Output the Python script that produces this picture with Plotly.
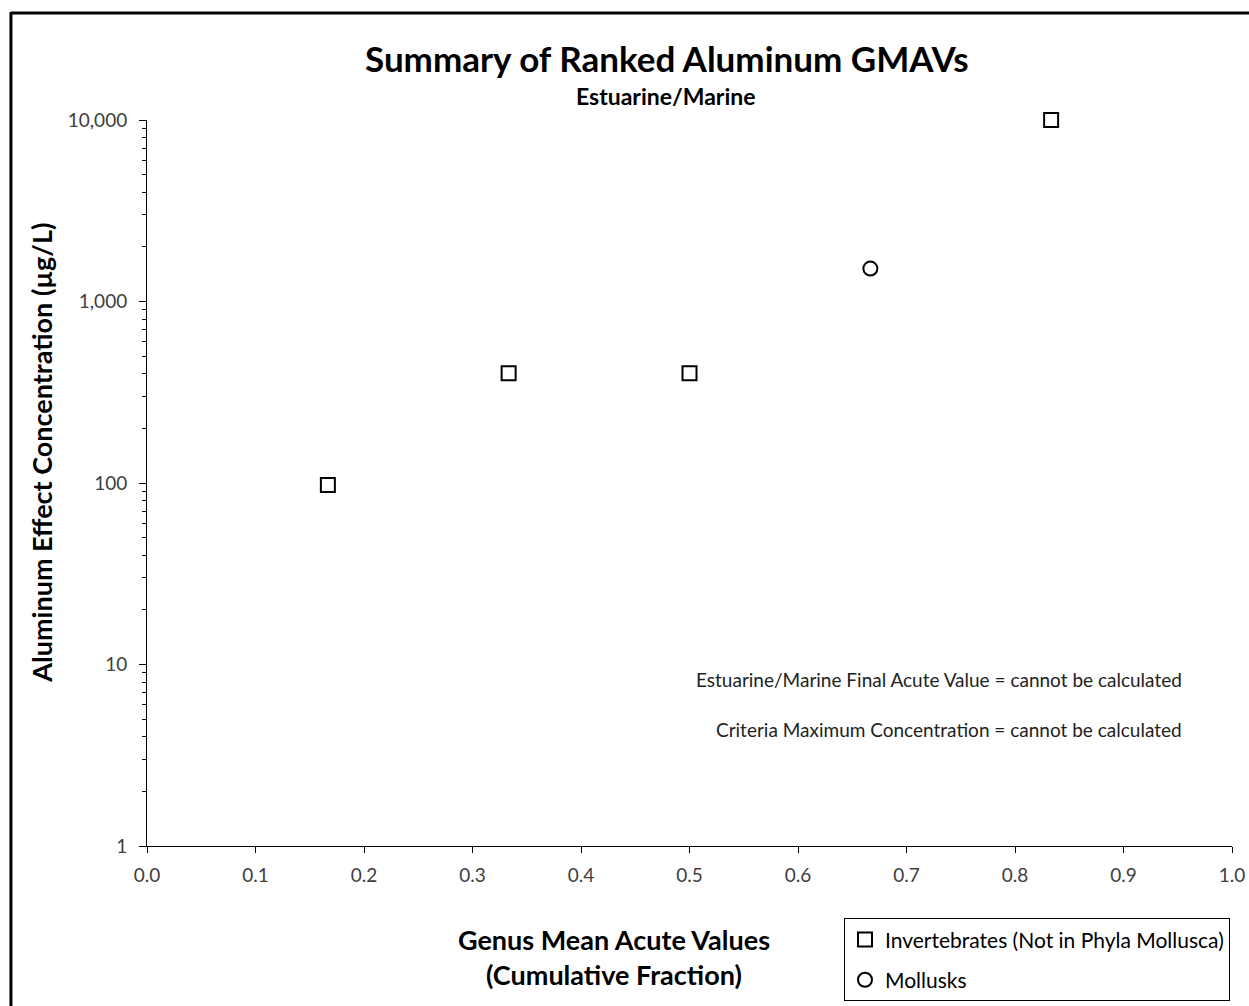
import plotly.graph_objects as go

# ranked GMAVs (cumulative fraction vs effect concentration, ug/L)
invert_frac = [0.1667, 0.3333, 0.5, 0.8333]
invert_vals = [97.5, 402, 402, 10000]
mollusk_frac = [0.6667]
mollusk_vals = [1518]

y_tickvals = [1, 10, 100, 1000, 10000]
y_ticktext = ["1", "10", "100", "1,000", "10,000"]

# the page photo comes out ~0.65% smaller, so lay out a bit bigger
S = 1.0065
W, H = round(1249 * S), round(1006 * S)
L, T = round(146 * S), round(119 * S)
R = W - round(1231 * S)
B = H - round(847 * S)
pw, ph = W - L - R, H - T - B

def px(x):
    return (x * S - L) / pw

def py(y):
    return (H - B - y * S) / ph

FONT = "Lato"

fig = go.Figure()
fig.add_trace(go.Scatter(
    x=invert_frac, y=invert_vals, mode="markers", name="Invertebrates (Not in Phyla Mollusca)",
    marker=dict(symbol="square-open", size=14, color="black", line=dict(width=2, color="black")),
    cliponaxis=False, legendgroup="a"))
fig.add_trace(go.Scatter(
    x=mollusk_frac, y=mollusk_vals, mode="markers", name="Mollusks",
    marker=dict(symbol="circle-open", size=14, color="black", line=dict(width=2, color="black")),
    cliponaxis=False, legendgroup="b"))

fig.update_layout(
    width=W, height=H,
    margin=dict(l=L, r=R, t=T, b=B),
    paper_bgcolor="white", plot_bgcolor="white",
    font=dict(family=FONT, color="#404040", size=19),
    showlegend=True,
    legend=dict(x=px(843), y=py(920), xanchor="left", yanchor="top",
                bordercolor="black", borderwidth=1, bgcolor="white",
                font=dict(size=21, color="black"), traceorder="grouped",
                tracegroupgap=10, itemwidth=30),
)

fig.update_xaxes(range=[0, 1], dtick=0.1, tickformat=".1f", showgrid=False, zeroline=False,
                 showline=True, linecolor="black", linewidth=1,
                 ticks="outside", ticklen=6, tickcolor="black", ticklabelstandoff=6,
                 tickfont=dict(size=19, color="#404040"))
fig.update_yaxes(type="log", range=[0, 4], tickvals=y_tickvals, ticktext=y_ticktext,
                 showgrid=False, zeroline=False, showline=True, linecolor="black", linewidth=1,
                 ticks="outside", ticklen=7, tickcolor="black", ticklabelstandoff=8,
                 minor=dict(ticks="outside", ticklen=4, tickcolor="black", dtick="D1", showgrid=False),
                 tickfont=dict(size=19, color="#404040"))

anns = [
    dict(text="<b>Summary of Ranked Aluminum GMAVs</b>", x=px(666), y=py(57), size=35, color="black"),
    dict(text="<b>Estuarine/Marine</b>", x=px(665), y=py(95), size=23, color="black"),
    dict(text="<b>Genus Mean Acute Values</b>", x=px(613), y=py(941), size=27, color="black"),
    dict(text="<b>(Cumulative Fraction)</b>", x=px(613), y=py(976), size=27, color="black"),
]
for a in anns:
    fig.add_annotation(text=a["text"], x=a["x"], y=a["y"], xref="paper", yref="paper",
                       showarrow=False, xanchor="center", yanchor="middle",
                       font=dict(family=FONT, size=a["size"], color=a["color"]))

fig.add_annotation(text="<b>Aluminum Effect Concentration (µg/L)</b>", x=px(41), y=py(453),
                   xref="paper", yref="paper", showarrow=False, textangle=-90,
                   xanchor="center", yanchor="middle",
                   font=dict(family=FONT, size=27, color="black"))

for txt, yy in [("Estuarine/Marine Final Acute Value = cannot be calculated", 680),
                ("Criteria Maximum Concentration = cannot be calculated", 731)]:
    fig.add_annotation(text=txt, x=px(1183), y=py(yy), xref="paper", yref="paper",
                       showarrow=False, xanchor="right", yanchor="middle",
                       font=dict(family=FONT, size=19, color="#222222"))

# outer chart frame (left and top edges visible)
fig.add_shape(type="line", xref="paper", yref="paper", x0=px(10), x1=px(10), y0=py(11), y1=py(1012),
              line=dict(color="black", width=3))
fig.add_shape(type="line", xref="paper", yref="paper", x0=px(10), x1=px(1255), y0=py(12), y1=py(12),
              line=dict(color="black", width=3))

page_fix = ("document.body.style.margin='0';"
            "document.body.style.overflow='hidden';"
            "document.documentElement.style.overflow='hidden';")
fig.write_html("out.html", config={"displayModeBar": False}, post_script=page_fix)
